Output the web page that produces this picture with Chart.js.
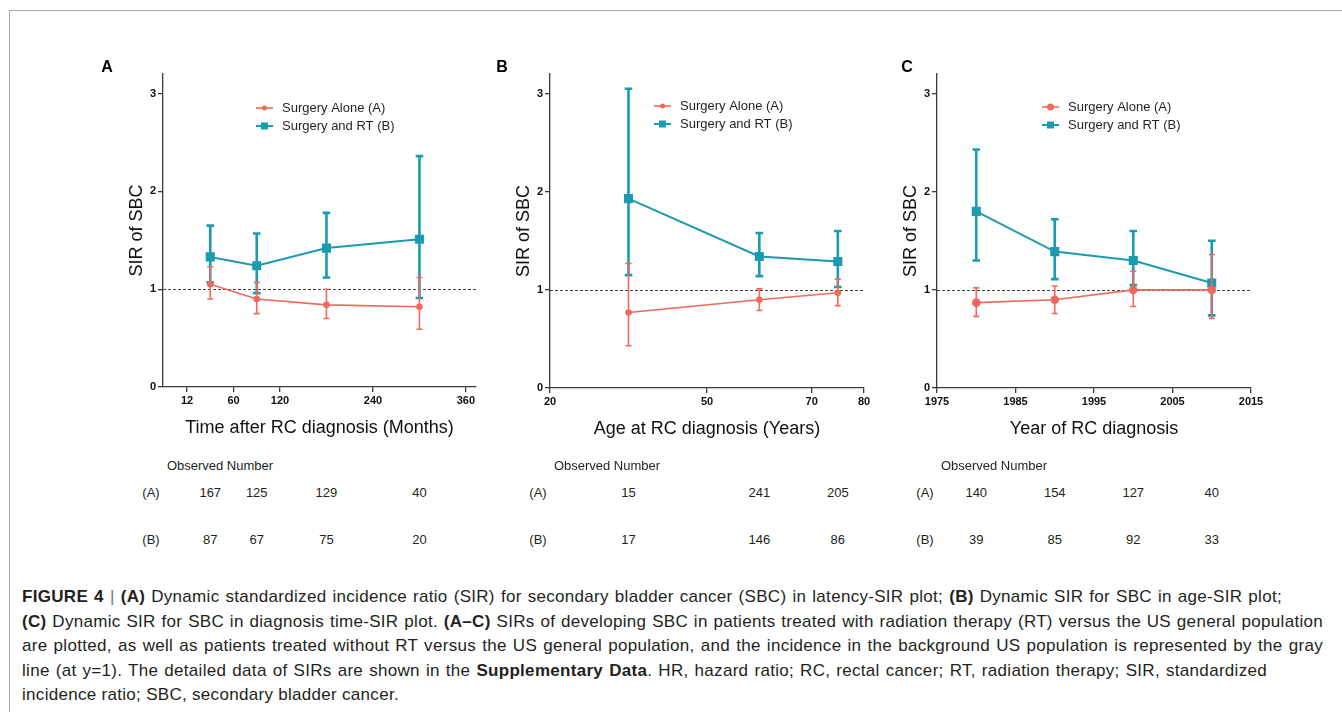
<!DOCTYPE html>
<html>
<head>
<meta charset="utf-8">
<script src="https://cdn.jsdelivr.net/npm/chart.js@4.4.1/dist/chart.umd.min.js"></script>
<style>
  html, body { margin: 0; padding: 0; background: #fff; }
  body { width: 1342px; height: 712px; position: relative; overflow: hidden; font-family: "Liberation Sans", Arial, sans-serif; color: #231f20; }
  #frame { position: absolute; left: 9px; top: 10px; width: 1340px; height: 710px; border-top: 1.5px solid #a8a8a8; border-left: 1.5px solid #a8a8a8; }
  canvas { position: absolute; }
  .lbl { position: absolute; font-size: 13px; white-space: nowrap; transform: translate(-50%, -50%); }
  .letter { position: absolute; font-size: 16px; font-weight: bold; transform: translate(-50%, -50%); color: #000; }
  #caption { position: absolute; left: 22px; top: 585px; font-size: 17px; line-height: 24.6px; color: #231f20; letter-spacing: 0.3px; }
  #caption .ln { white-space: nowrap; text-align: justify; text-align-last: justify; }
  #caption .ln.last { text-align: left; text-align-last: left; }
  #caption b { font-weight: bold; }
  #caption .bar { color: #777; }
</style>
</head>
<body>
<div id="frame"></div>
<canvas id="cA" width="390" height="390"></canvas>
<canvas id="cB" width="391" height="391"></canvas>
<canvas id="cC" width="391" height="391"></canvas>
<div class="letter" style="left:107px;top:67px;">A</div>
<div class="letter" style="left:502px;top:67px;">B</div>
<div class="letter" style="left:907px;top:67px;">C</div>
<div id="tables"></div>
<div id="caption">
<div class="ln" style="width:1260px;"><b>FIGURE 4</b> <span class="bar">|</span> <b>(A)</b> Dynamic standardized incidence ratio (SIR) for secondary bladder cancer (SBC) in latency-SIR plot; <b>(B)</b> Dynamic SIR for SBC in age-SIR plot;</div>
<div class="ln" style="width:1301px;"><b>(C)</b> Dynamic SIR for SBC in diagnosis time-SIR plot. <b>(A–C)</b> SIRs of developing SBC in patients treated with radiation therapy (RT) versus the US general population</div>
<div class="ln" style="width:1301px;">are plotted, as well as patients treated without RT versus the US general population, and the incidence in the background US population is represented by the gray</div>
<div class="ln" style="width:1245px;">line (at y=1). The detailed data of SIRs are shown in the <b>Supplementary Data</b>. HR, hazard ratio; RC, rectal cancer; RT, radiation therapy; SIR, standardized</div>
<div class="ln last">incidence ratio; SBC, secondary bladder cancer.</div>
</div>
<script>
// ---------- DATA ----------
const seriesNames = ['Surgery Alone (A)', 'Surgery and RT (B)'];
const sirTickValues = [0, 1, 2, 3];

// Panel A: latency
const latencyMonths = [30, 90, 180, 300];
const latencyTickValues = [0, 60, 120, 240, 360];
const latencyTickLabels = ['12', '60', '120', '240', '360'];
const latencyAloneSIR = [1.05, 0.90, 0.84, 0.82];
const latencyAloneLow = [0.90, 0.75, 0.70, 0.59];
const latencyAloneHigh = [1.23, 1.07, 1.00, 1.12];
const latencyRTSIR = [1.33, 1.24, 1.42, 1.51];
const latencyRTLow = [1.07, 0.96, 1.12, 0.91];
const latencyRTHigh = [1.65, 1.57, 1.78, 2.36];
const latencyObsA = [167, 125, 129, 40];
const latencyObsB = [87, 67, 75, 20];

// Panel B: age
const ageYears = [35, 60, 75];
const ageTickValues = [20, 50, 70, 80];
const ageTickLabels = ['20', '50', '70', '80'];
const ageAloneSIR = [0.77, 0.90, 0.97];
const ageAloneLow = [0.43, 0.79, 0.84];
const ageAloneHigh = [1.27, 1.01, 1.11];
const ageRTSIR = [1.93, 1.34, 1.29];
const ageRTLow = [1.15, 1.14, 1.03];
const ageRTHigh = [3.05, 1.58, 1.60];
const ageObsA = [15, 241, 205];
const ageObsB = [17, 146, 86];

// Panel C: year of diagnosis
const diagYears = [1980, 1990, 2000, 2010];
const yearTickValues = [1975, 1985, 1995, 2005, 2015];
const yearTickLabels = ['1975', '1985', '1995', '2005', '2015'];
const yearAloneSIR = [0.87, 0.90, 1.00, 1.00];
const yearAloneLow = [0.73, 0.76, 0.83, 0.71];
const yearAloneHigh = [1.02, 1.04, 1.19, 1.36];
const yearRTSIR = [1.80, 1.39, 1.30, 1.07];
const yearRTLow = [1.30, 1.11, 1.05, 0.74];
const yearRTHigh = [2.43, 1.72, 1.60, 1.50];
const yearObsA = [140, 154, 127, 40];
const yearObsB = [39, 85, 92, 33];

// ---------- STYLE ----------
const RED = '#f0695a';
const TEAL = '#1a9bb0';
const AXIS = '#3a3a3a';
const FONT = '"Liberation Sans", Arial, Helvetica, sans-serif';

const errorBarPlugin = {
  id: 'errorBars',
  beforeDatasetDraw(chart, args) {
    const ds = chart.data.datasets[args.index];
    if (!ds.errLow) return;
    const ctx = chart.ctx, xs = chart.scales.x, ys = chart.scales.y;
    ctx.save();
    ctx.strokeStyle = ds.borderColor;
    ctx.lineWidth = ds.errWidth;
    ctx.lineCap = 'butt';
    ds.data.forEach((p, i) => {
      const x = xs.getPixelForValue(p.x);
      const y1 = ys.getPixelForValue(ds.errLow[i]);
      const y2 = ys.getPixelForValue(ds.errHigh[i]);
      const c = ds.capHalf;
      ctx.beginPath();
      ctx.moveTo(x, y1); ctx.lineTo(x, y2);
      ctx.moveTo(x - c, y1); ctx.lineTo(x + c, y1);
      ctx.moveTo(x - c, y2); ctx.lineTo(x + c, y2);
      ctx.stroke();
    });
    ctx.restore();
  }
};

const refLinePlugin = {
  id: 'refLine',
  beforeDatasetsDraw(chart) {
    const ctx = chart.ctx, a = chart.chartArea, ys = chart.scales.y;
    const y = Math.round(ys.getPixelForValue(1)) + 0.5;
    ctx.save();
    ctx.strokeStyle = '#444';
    ctx.lineWidth = 1;
    ctx.setLineDash([3, 2]);
    ctx.beginPath();
    ctx.moveTo(a.left, y); ctx.lineTo(a.right, y);
    ctx.stroke();
    ctx.restore();
  }
};

const legendPlugin = {
  id: 'customLegend',
  afterDraw(chart, args, opts) {
    const ctx = chart.ctx, a = chart.chartArea;
    const x0 = a.left + opts.dx, y0 = a.top + opts.dy;
    ctx.save();
    chart.data.datasets.forEach((ds, i) => {
      const y = y0 + i * 18;
      ctx.strokeStyle = ds.borderColor;
      ctx.lineWidth = ds.borderWidth;
      ctx.beginPath(); ctx.moveTo(x0, y); ctx.lineTo(x0 + 17, y); ctx.stroke();
      ctx.fillStyle = ds.borderColor;
      const cx = x0 + 8.5;
      if (ds.pointStyle === 'rect') {
        ctx.fillRect(cx - 3.5, y - 3.5, 7, 7);
      } else {
        ctx.beginPath(); ctx.arc(cx, y, ds.pointRadius, 0, Math.PI * 2); ctx.fill();
      }
      ctx.fillStyle = '#231f20';
      ctx.font = '13px ' + FONT;
      ctx.textBaseline = 'middle';
      ctx.fillText(ds.label, x0 + 26, y);
    });
    ctx.restore();
  }
};

function pts(xs, ys) { return xs.map((x, i) => ({ x: x, y: ys[i] })); }

function makeChart(id, cfg) {
  const datasets = [
    { label: seriesNames[0], data: pts(cfg.x, cfg.aS), errLow: cfg.aL, errHigh: cfg.aH,
      borderColor: RED, backgroundColor: RED, borderWidth: 1.6, pointStyle: 'circle',
      pointRadius: cfg.redR, pointHoverRadius: cfg.redR, errWidth: 1.6, capHalf: 3 },
    { label: seriesNames[1], data: pts(cfg.x, cfg.bS), errLow: cfg.bL, errHigh: cfg.bH,
      borderColor: TEAL, backgroundColor: TEAL, borderWidth: 2, pointStyle: 'rect',
      pointRadius: 5, pointHoverRadius: 5, errWidth: 2.6, capHalf: 3.8 }
  ];
  return new Chart(document.getElementById(id), {
    type: 'line',
    data: { datasets: datasets },
    plugins: [errorBarPlugin, refLinePlugin, legendPlugin],
    options: {
      responsive: false,
      animation: false,
      devicePixelRatio: 1,
      layout: { padding: { left: 0, top: 14, right: 14, bottom: 0 } },
      plugins: { legend: { display: false }, tooltip: { enabled: false },
                 customLegend: { dx: cfg.legDx, dy: cfg.legDy } },
      elements: { line: { tension: 0 } },
      scales: {
        x: {
          type: 'linear', min: cfg.xmin, max: cfg.xmax,
          afterBuildTicks: s => { s.ticks = cfg.tv.map(v => ({ value: v })); },
          afterFit: s => { s.height = 63; s.paddingLeft = 0; s.paddingRight = 0; },
          ticks: { callback: (v) => { const k = cfg.tv.indexOf(v); return k >= 0 ? cfg.tl[k] : ''; },
                   font: { family: FONT, size: 11, weight: 'bold' }, color: '#111', padding: 2, maxRotation: 0, autoSkip: false },
          grid: { drawOnChartArea: false, tickLength: 5, color: AXIS, lineWidth: 1.3 },
          border: { color: AXIS, width: 1.3 },
          title: { display: true, text: cfg.xTitle, font: { family: FONT, size: 18 }, color: '#111', padding: { top: 0, bottom: 11 } }
        },
        y: {
          type: 'linear', min: 0, max: 3.2,
          afterBuildTicks: s => { s.ticks = sirTickValues.map(v => ({ value: v })); },
          afterFit: s => { s.width = 63; s.paddingTop = 0; s.paddingBottom = 0; },
          ticks: { font: { family: FONT, size: 11, weight: 'bold' }, color: '#111', padding: 2 },
          grid: { drawOnChartArea: false, tickLength: 5, color: AXIS, lineWidth: 1.3 },
          border: { color: AXIS, width: 1.3 },
          title: { display: true, text: 'SIR of SBC', font: { family: FONT, size: 18 }, color: '#111', padding: { top: 26, bottom: 0 } }
        }
      }
    }
  });
}

function place(id, left, top) {
  const c = document.getElementById(id);
  c.style.left = left + 'px'; c.style.top = top + 'px';
  c.style.width = c.width + 'px'; c.style.height = c.height + 'px';
}
place('cA', 100, 60);
place('cB', 487, 60);
place('cC', 874, 60);

const chartA = makeChart('cA', { x: latencyMonths, aS: latencyAloneSIR, aL: latencyAloneLow, aH: latencyAloneHigh,
  bS: latencyRTSIR, bL: latencyRTLow, bH: latencyRTHigh, xmin: -31, xmax: 373, tv: latencyTickValues, tl: latencyTickLabels,
  xTitle: 'Time after RC diagnosis (Months)', redR: 2.5, legDx: 93, legDy: 34 });
const chartB = makeChart('cB', { x: ageYears, aS: ageAloneSIR, aL: ageAloneLow, aH: ageAloneHigh,
  bS: ageRTSIR, bL: ageRTLow, bH: ageRTHigh, xmin: 20, xmax: 80, tv: ageTickValues, tl: ageTickLabels,
  xTitle: 'Age at RC diagnosis (Years)', redR: 2.5, legDx: 104, legDy: 32 });
const chartC = makeChart('cC', { x: diagYears, aS: yearAloneSIR, aL: yearAloneLow, aH: yearAloneHigh,
  bS: yearRTSIR, bL: yearRTLow, bH: yearRTHigh, xmin: 1975, xmax: 2015, tv: yearTickValues, tl: yearTickLabels,
  xTitle: 'Year of RC diagnosis', redR: 3.5, legDx: 105, legDy: 33 });

// Observed number tables, aligned to each chart's x scale
const tables = document.getElementById('tables');
function addLabel(text, x, y) {
  const d = document.createElement('div');
  d.className = 'lbl'; d.textContent = text;
  d.style.left = x + 'px'; d.style.top = y + 'px';
  tables.appendChild(d);
}
function addTable(chart, canvasLeft, xs, obsA, obsB) {
  const a = chart.chartArea;
  addLabel('Observed Number', canvasLeft + a.left + 57, 465);
  addLabel('(A)', canvasLeft + a.left - 12, 492);
  addLabel('(B)', canvasLeft + a.left - 12, 539);
  xs.forEach((v, i) => {
    const px = canvasLeft + chart.scales.x.getPixelForValue(v);
    addLabel(String(obsA[i]), px, 492);
    addLabel(String(obsB[i]), px, 539);
  });
}
addTable(chartA, 100, latencyMonths, latencyObsA, latencyObsB);
addTable(chartB, 487, ageYears, ageObsA, ageObsB);
addTable(chartC, 874, diagYears, yearObsA, yearObsB);
</script>
</body>
</html>
